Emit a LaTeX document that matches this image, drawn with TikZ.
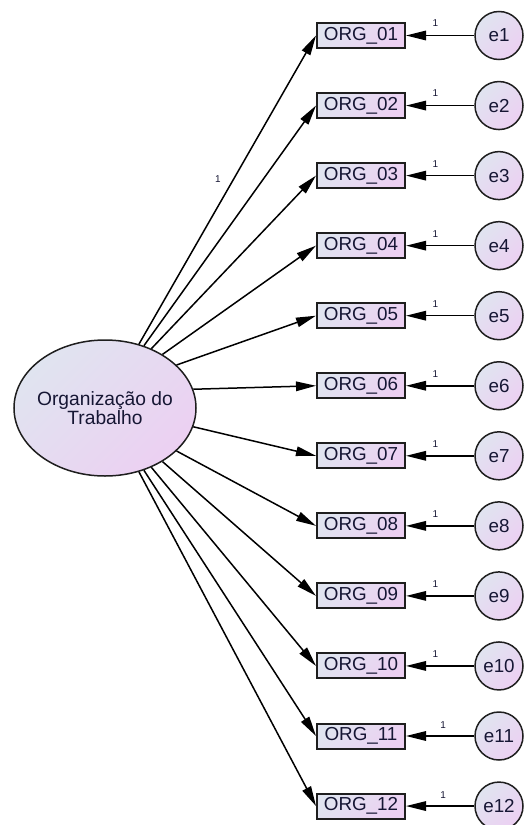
\documentclass[tikz,border=0pt]{standalone}
\usepackage{fontspec}
\setmainfont{Liberation Sans}
\usetikzlibrary{arrows.meta,shapes.geometric}
\definecolor{inkc}{RGB}{22,22,52}
\definecolor{edgec}{RGB}{30,30,30}
\definecolor{fillA}{RGB}{224,228,240}
\definecolor{fillB}{RGB}{236,208,242}

\begin{document}
\begin{tikzpicture}[x=1bp,y=-1bp,
  grad/.style={top color=fillA,bottom color=fillB,shading angle=45},
  latent/.style={ellipse,draw=edgec,line width=1.5bp,grad,minimum width=182bp,minimum height=136bp,inner sep=0pt},
  latentlbl/.style={text=inkc,align=center,inner sep=0pt,font=\fontsize{19.3}{18.5}\selectfont},
  obs/.style={rectangle,draw=edgec,line width=2bp,grad,minimum width=88bp,minimum height=25bp,inner sep=0pt,text=inkc,font=\fontsize{18.9}{20}\selectfont},
  err/.style={circle,draw=edgec,line width=1.5bp,grad,minimum size=48bp,inner sep=0pt,text=inkc,font=\fontsize{18.9}{20}\selectfont},
  load/.style={draw=black,line width=1.5bp,-{Triangle[length=20bp,width=9.5bp]}},
  lbl/.style={inner sep=0pt,text=inkc,font=\fontsize{10}{10}\selectfont},
]
\useasboundingbox (0,0) rectangle (526,825);

% latent factor
\node[latent] (F) at (105,408) {};
\node[latentlbl] (Ft) at (F.center) {Organização do\\Trabalho};

% indicators with their error terms
\foreach \i/\n/\p/\s in {1/01/0.57/12,2/02/0.57/12,3/03/0.57/12,4/04/0.57/12,
    5/05/0.57/12,6/06/0.57/12,7/07/0.57/12,8/08/0.57/12,9/09/0.57/12,
    10/10/0.57/12,11/11/0.457/11,12/12/0.457/11}{
  \pgfmathsetmacro\yy{35.5+70.05*(\i-1)}
  \node[obs] (o\i) at (361,\yy) {ORG\_\n};
  \node[err] (e\i) at (499,\yy) {e\i};
  \draw[load] (e\i.west) -- (o\i.east) node[lbl,pos=\p,yshift=\s bp] {1};
}

% factor loadings
\draw[load] (F.62) -- (o1.west) node[lbl,pos=0.534,left=12bp] {1};
\foreach \i/\a in {2/58,3/52,4/43,5/31,6/12,7/-12,8/-31,9/-43,10/-52,11/-58,12/-62}{
  \draw[load] (F.\a) -- (o\i.west);
}
\end{tikzpicture}
\end{document}
